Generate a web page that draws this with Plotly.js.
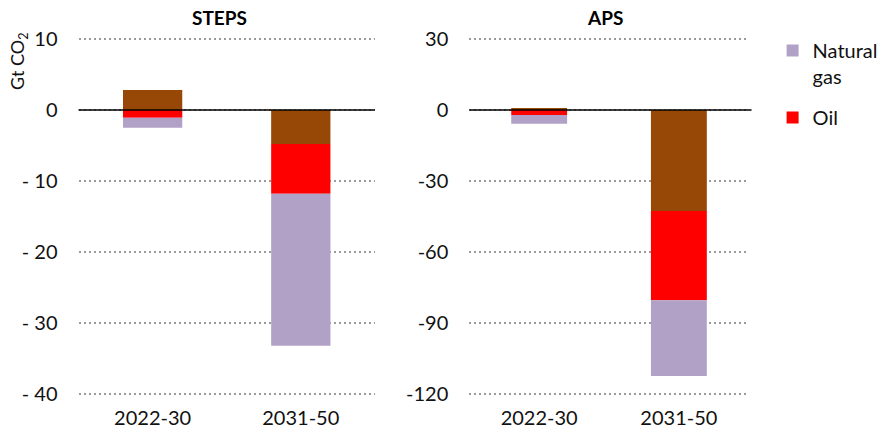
<!DOCTYPE html>
<html>
<head>
<meta charset="utf-8">
<script src="https://cdn.plot.ly/plotly-3.0.1.min.js"></script>
<style>html,body{margin:0;padding:0;background:#fff;}#chart{width:883px;height:433px;}</style>
</head>
<body>
<div id="chart"></div>
<script>
// Data (Gt CO2)
const periods = ["2022-30", "2031-50"];
const stepsCoal = [2.8, -4.8];
const stepsOil = [-1.1, -7.0];
const stepsGas = [-1.4, -21.4];
const apsCoal = [0.85, -42.7];
const apsOil = [-2.1, -37.7];
const apsGas = [-3.7, -32.0];
const stepsTickVals = [10, 0, -10, -20, -30, -40];
const stepsTickText = ["10", "0", "- 10", "- 20", "- 30", "- 40"];
const apsTickVals = [30, 0, -30, -60, -90, -120];
const apsTickText = ["30", "0", "-30", "-60", "-90", "-120"];

const colCoal = "#974706", colOil = "#FF0000", colGas = "#B2A1C7";
const FONT = "Lato, 'Open Sans', sans-serif";

function bar(x, y, name, color, xa, ya, show, grp, rank) {
  return {type: "bar", x: x, y: y, name: name, marker: {color: color, line: {width: 0}},
    xaxis: xa, yaxis: ya, showlegend: show, legendgroup: grp, legendrank: rank,
    width: 0.4, hoverinfo: "skip"};
}
const data = [
  bar(periods, stepsCoal, "Coal", colCoal, "x", "y", false, "coal", 3000),
  bar(periods, stepsOil, "Oil", colOil, "x", "y", true, "oil", 2000),
  bar(periods, stepsGas, "Natural<br>gas", colGas, "x", "y", true, "gas", 1000),
  bar(periods, apsCoal, "Coal", colCoal, "x2", "y2", false, "coal", 3000),
  bar(periods, apsOil, "Oil", colOil, "x2", "y2", false, "oil", 2000),
  bar(periods, apsGas, "Natural<br>gas", colGas, "x2", "y2", false, "gas", 1000)
];

const yCommon = {
  showgrid: true, gridcolor: "#9a9a9a", griddash: "2px,3px", gridwidth: 2,
  zeroline: false, showline: false, ticks: "", ticklabelstandoff: 20,
  tickfont: {family: FONT, size: 20, color: "#111"}, fixedrange: true
};
const xCommon = {
  type: "category", range: [-0.5, 1.5], showgrid: false, zeroline: false, showline: false,
  ticks: "", tickfont: {family: FONT, size: 20, color: "#111"}, ticklabelstandoff: 9
};
// domain chosen so that the tick values land on the reference pixel rows
const yDom = [1 - 395.42/433, 1 - 37.58/433];

const layout = {
  width: 883, height: 433,
  margin: {l: 0, r: 0, t: 0, b: 0},
  paper_bgcolor: "#fff", plot_bgcolor: "rgba(0,0,0,0)",
  barmode: "relative",
  font: {family: FONT, color: "#111"},
  xaxis: Object.assign({}, xCommon, {domain: [79/883, 377/883], anchor: "y"}),
  xaxis2: Object.assign({}, xCommon, {domain: [472/883, 753/883], anchor: "y2"}),
  yaxis: Object.assign({}, yCommon, {domain: yDom, range: [-40.2, 10.2],
    tickvals: stepsTickVals, ticktext: stepsTickText, anchor: "x"}),
  yaxis2: Object.assign({}, yCommon, {domain: yDom, range: [-120.6, 30.6],
    tickvals: apsTickVals, ticktext: apsTickText, anchor: "x2"}),
  shapes: [
    {type: "line", xref: "x domain", yref: "y", x0: 0, x1: 1, y0: 0, y1: 0,
     line: {color: "#000", width: 1.3}, layer: "above"},
    {type: "line", xref: "x2 domain", yref: "y2", x0: 0, x1: 1.01, y0: 0, y1: 0,
     line: {color: "#000", width: 1.3}, layer: "above"}
  ],
  annotations: [
    {text: "<b>STEPS</b>", xref: "paper", yref: "paper", x: 221/883, y: 1-18/433,
     xanchor: "center", yanchor: "middle", showarrow: false, font: {family: FONT, size: 19, color: "#000"}},
    {text: "<b>APS</b>", xref: "paper", yref: "paper", x: 608/883, y: 1-18/433,
     xanchor: "center", yanchor: "middle", showarrow: false, font: {family: FONT, size: 19, color: "#000"}},
    {text: "Gt CO<sub>2</sub>", xref: "paper", yref: "paper", x: 18/883, y: 1-61/433,
     xanchor: "center", yanchor: "middle", textangle: -90, showarrow: false,
     font: {family: FONT, size: 18, color: "#111"}}
  ],
  legend: {
    x: 777/883, y: 1-31/433, xanchor: "left", yanchor: "top",
    traceorder: "grouped", valign: "top", bgcolor: "rgba(0,0,0,0)",
    font: {family: FONT, size: 20, color: "#111"}, itemclick: false, itemdoubleclick: false,
    tracegroupgap: 12
  },
  showlegend: true
};

Plotly.newPlot("chart", data, layout, {staticPlot: true, displayModeBar: false});
</script>
</body>
</html>
